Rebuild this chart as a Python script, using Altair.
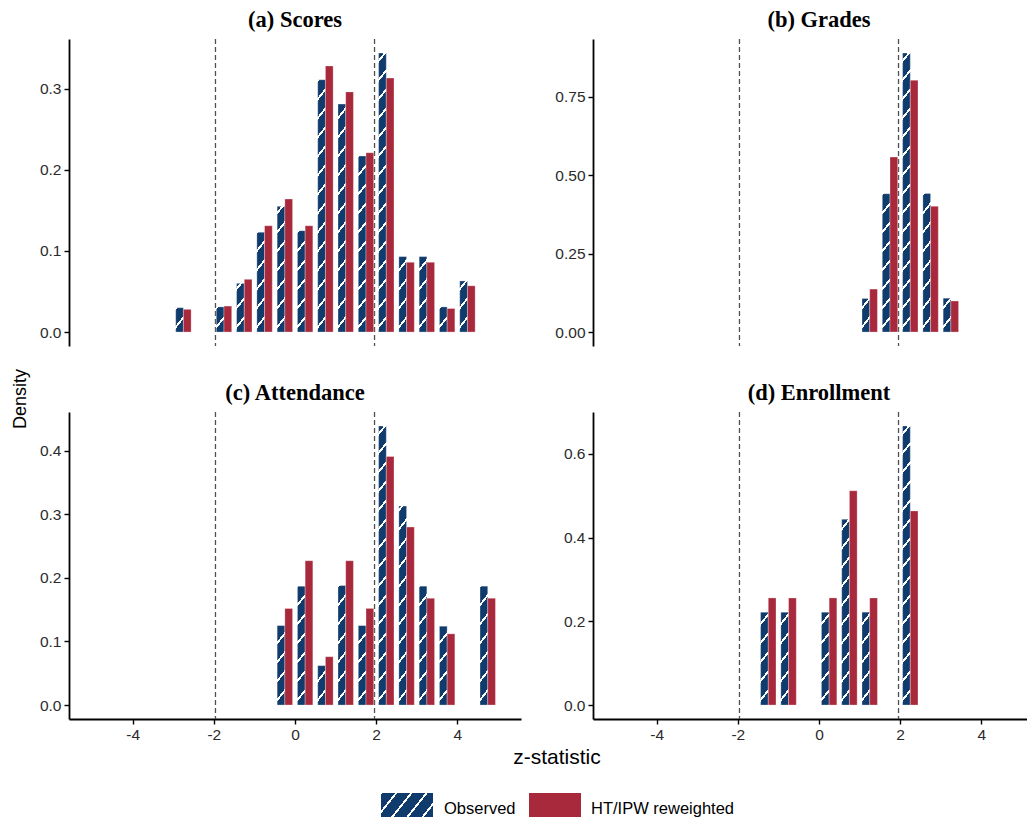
import math
import altair as alt

# ---------------- data ----------------
SERIES = ["Observed", "HT/IPW reweighted"]
CRIT = [-1.96, 1.96]
X_TICKS = [-4, -2, 0, 2, 4]
Y_TITLE = "Density"
X_TITLE = "z-statistic"

A_TITLE = "(a) Scores"
A_BINS = [-2.75, -1.75, -1.25, -0.75, -0.25, 0.25, 0.75, 1.25, 1.75, 2.25, 2.75, 3.25, 3.75, 4.25]
A_OBS = [0.030, 0.031, 0.060, 0.123, 0.155, 0.125, 0.311, 0.281, 0.217, 0.344, 0.093, 0.093, 0.031, 0.063]
A_REW = [0.028, 0.032, 0.065, 0.131, 0.164, 0.131, 0.328, 0.296, 0.221, 0.313, 0.086, 0.086, 0.029, 0.057]
A_YTICKS = [0.0, 0.1, 0.2, 0.3]

B_TITLE = "(b) Grades"
B_BINS = [1.25, 1.75, 2.25, 2.75, 3.25]
B_OBS = [0.107, 0.441, 0.890, 0.442, 0.108]
B_REW = [0.137, 0.558, 0.803, 0.401, 0.099]
B_YTICKS = [0.0, 0.25, 0.5, 0.75]

C_TITLE = "(c) Attendance"
C_BINS = [-0.25, 0.25, 0.75, 1.25, 1.75, 2.25, 2.75, 3.25, 3.75, 4.75]
C_OBS = [0.125, 0.187, 0.062, 0.188, 0.125, 0.439, 0.313, 0.187, 0.124, 0.187]
C_REW = [0.152, 0.227, 0.076, 0.227, 0.152, 0.391, 0.280, 0.168, 0.112, 0.168]
C_YTICKS = [0.0, 0.1, 0.2, 0.3, 0.4]

D_TITLE = "(d) Enrollment"
D_BINS = [-1.25, -0.75, 0.25, 0.75, 1.25, 2.25]
D_OBS = [0.222, 0.222, 0.222, 0.444, 0.222, 0.667]
D_REW = [0.256, 0.256, 0.256, 0.512, 0.256, 0.464]
D_YTICKS = [0.0, 0.2, 0.4, 0.6]

# ---------------- style / layout ----------------
NAVY = "#0f3b6d"
RED = "#a8283c"
WHITE = "#ffffff"
PANEL_W = 452
RIGHT_W = 434
PANEL_H = 307
X_LO, X_HI = -5.57, 5.57
PPU_X = PANEL_W / (X_HI - X_LO)
X_HI_RIGHT = X_LO + RIGHT_W / PPU_X
BAR = 0.19  # bar width in z units

SLOPE = 1.25
PERIOD = 19.0
THICK = 3.0
PHASE = 5.0


def stripe_fill(w, h):
    """Linear-gradient paint that draws white diagonal stripes on navy."""
    if h < 1:
        return NAVY
    D = SLOPE * w + h
    k = D / (SLOPE ** 2 * w ** 2 + h ** 2)
    n_min = math.floor((-SLOPE * w - THICK - PHASE) / PERIOD)
    n_max = math.ceil((h + THICK - PHASE) / PERIOD)
    bands = []
    for n in range(n_min, n_max + 1):
        g = PHASE + n * PERIOD
        ta = max(0.0, (h - (g + THICK / 2)) / D)
        tb = min(1.0, (h - (g - THICK / 2)) / D)
        if tb > ta:
            bands.append((ta, tb))
    bands.sort()
    stops = [{"offset": 0, "color": NAVY}]
    for ta, tb in bands:
        ta = round(ta, 5)
        tb = round(tb, 5)
        stops += [
            {"offset": ta, "color": NAVY},
            {"offset": ta, "color": WHITE},
            {"offset": tb, "color": WHITE},
            {"offset": tb, "color": NAVY},
        ]
    stops.append({"offset": 1, "color": NAVY})
    return {"gradient": "linear", "x1": 0, "y1": 0,
            "x2": round(k * SLOPE * w, 6), "y2": round(k * h, 6), "stops": stops}


def text_layer(label, x, y, size, font="Liberation Sans", weight="normal",
               align="center", baseline="middle", angle=0):
    return alt.Chart(alt.Data(values=[{"t": label}])).mark_text(
        fontSize=size, font=font, fontWeight=weight, color="black",
        align=align, baseline=baseline, angle=angle,
    ).encode(x=alt.value(x), y=alt.value(y), text="t:N")


def panel(title, bins, obs, rew, yticks, yfmt, width, x_hi, show_x, extra):
    m = max(obs + rew)
    lo, hi = -0.05 * m, 1.05 * m
    ppu_y = PANEL_H / (hi - lo)
    recs = []
    for c, o, r in zip(bins, obs, rew):
        recs.append({"bin": c, "series": SERIES[0], "density": o,
                     "paint": stripe_fill(BAR * PPU_X, o * ppu_y)})
        recs.append({"bin": c, "series": SERIES[1], "density": r, "paint": RED})
    xs = alt.Scale(domain=[X_LO, x_hi], nice=False, zero=False)
    ys = alt.Scale(domain=[lo, hi], nice=False, zero=False)
    if show_x:
        xaxis = alt.Axis(values=X_TICKS, labelExpr="'' + datum.value", title=None)
    else:
        xaxis = None
    yaxis = alt.Axis(values=yticks, format=yfmt, title=None)

    rules = alt.Chart(alt.Data(values=[{"crit": v} for v in CRIT])).mark_rule(
        color="#505050", strokeDash=[5, 3], strokeWidth=1.3
    ).encode(x=alt.X("crit:Q", scale=xs, axis=xaxis))

    bars = alt.Chart(alt.Data(values=recs)).transform_calculate(
        x0=f"datum.bin - (datum.series === '{SERIES[0]}' ? {BAR} : 0)",
        x1=f"datum.bin + (datum.series === '{SERIES[0]}' ? 0 : {BAR})",
    ).mark_rect(stroke="white", strokeWidth=0.6, strokeOpacity=0.5).encode(
        x=alt.X("x0:Q", scale=xs, axis=xaxis),
        x2="x1:Q",
        y=alt.Y("density:Q", scale=ys, axis=yaxis),
        y2=alt.datum(0),
        fill=alt.Fill("paint:N", scale=None),
    )
    ttl = text_layer(title, PANEL_W / 2, -12.5, 22.5, font="Liberation Serif",
                     weight="bold", baseline="alphabetic")
    return alt.layer(rules, bars, ttl, *extra).properties(width=width, height=PANEL_H)


# extra layers: page anchor + y title (panel a)
anchor = alt.Chart(alt.Data(values=[{"a": 0}])).mark_point(
    size=1, opacity=0, filled=True, strokeWidth=0).encode(
    x=alt.value(-60), y=alt.value(-30))
ytitle = text_layer(Y_TITLE, -48, 360, 18, angle=270)

# x title + legend (panel c)
xtitle = text_layer(X_TITLE, 488, PANEL_H + 39, 21)

leg_obs = alt.Chart(alt.Data(values=[{"s": SERIES[0], "paint": stripe_fill(52, 24)}])).mark_rect().encode(
    x=alt.value(312), x2=alt.value(364), y=alt.value(381), y2=alt.value(405),
    fill=alt.Fill("paint:N", scale=None))
leg_rew = alt.Chart(alt.Data(values=[{"s": SERIES[1], "paint": RED}])).mark_rect().encode(
    x=alt.value(460), x2=alt.value(512), y=alt.value(381), y2=alt.value(405),
    fill=alt.Fill("paint:N", scale=None))
leg_txt1 = text_layer(SERIES[0], 375, 397, 16.5, align="left")
leg_txt2 = text_layer(SERIES[1], 522, 397, 16.5, align="left")

pa = panel(A_TITLE, A_BINS, A_OBS, A_REW, A_YTICKS, ".1f", PANEL_W, X_HI, False, [anchor, ytitle])
pb = panel(B_TITLE, B_BINS, B_OBS, B_REW, B_YTICKS, ".2f", RIGHT_W, X_HI_RIGHT, False, [])
pc = panel(C_TITLE, C_BINS, C_OBS, C_REW, C_YTICKS, ".1f", PANEL_W, X_HI, True,
           [xtitle, leg_obs, leg_rew, leg_txt1, leg_txt2])
pd_ = panel(D_TITLE, D_BINS, D_OBS, D_REW, D_YTICKS, ".1f", RIGHT_W, X_HI_RIGHT, True, [])

chart = alt.concat(
    pa, pb, pc, pd_, columns=2,
    spacing={"row": 66, "column": 72}, bounds="flush", padding=0,
).configure_view(stroke=None).configure_axis(
    domainColor="black", domainWidth=1.8, tickColor="black", tickWidth=1.4,
    tickSize=5, labelColor="#2b2b2b", labelFont="Liberation Sans",
    labelFontSize=15.5, labelPadding=3, grid=False,
)

chart.save("out.html", embed_options={"renderer": "svg", "actions": False})
